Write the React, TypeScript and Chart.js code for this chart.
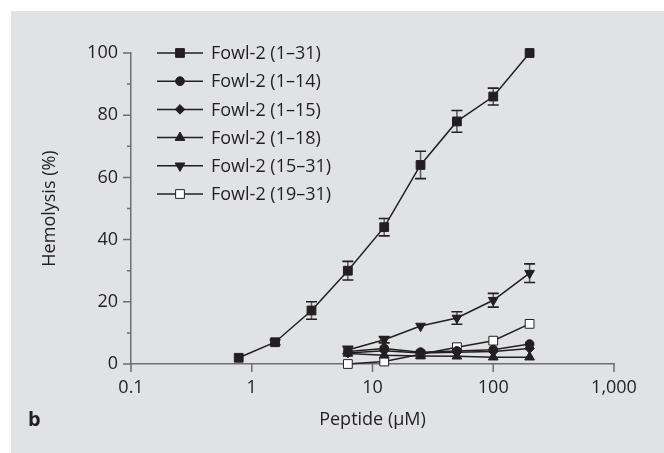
import React, { useEffect, useRef } from 'react';
import { Chart, registerables } from 'chart.js';
import { drawPoint } from 'chart.js/helpers';

Chart.register(...registerables);

// ---- data ----
const concAll = [0.78, 1.56, 3.125, 6.25, 12.5, 25, 50, 100, 200];
const concShort = [6.25, 12.5, 25, 50, 100, 200];
const seriesNames = [
  'Fowl-2 (1–31)',
  'Fowl-2 (1–14)',
  'Fowl-2 (1–15)',
  'Fowl-2 (1–18)',
  'Fowl-2 (15–31)',
  'Fowl-2 (19–31)',
];
const fowl1_31 = [2, 7, 17.2, 30, 44, 64, 78, 86, 100];
const fowl1_31Err = [0, 0.8, 2.8, 3, 2.8, 4.4, 3.5, 2.7, 0];
const fowl1_14 = [4, 5, 3.8, 4.2, 4.6, 6.4];
const fowl1_15 = [3.5, 4.3, 3.5, 3.8, 4, 5];
const fowl1_18 = [3.4, 2.8, 2.6, 2.5, 2.2, 2.2];
const fowl15_31 = [4.5, 7.8, 12.2, 14.8, 20.5, 29.2];
const fowl15_31Err = [1.2, 1, 0, 2, 2.2, 3];
const fowl19_31 = [0, 0.8, 3.1, 5.4, 7.5, 12.9];
const xTickValues = [0.1, 1, 10, 100, 1000];
const xTickLabels = ['0.1', '1', '10', '100', '1,000'];
const yMajorTicks = [0, 20, 40, 60, 80, 100];

const INK = '#231f20';
const AXIS = '#6d6e71';
const FONT_FAMILY = '"Open Sans", sans-serif';
const FONT_SIZE = 18;

type Marker = { pointStyle: string; rotation: number; radius: number; fill: string };
const markers: Marker[] = [
  { pointStyle: 'rect', rotation: 0, radius: 6.2, fill: INK },
  { pointStyle: 'circle', rotation: 0, radius: 4.4, fill: INK },
  { pointStyle: 'rectRot', rotation: 0, radius: 4.8, fill: INK },
  { pointStyle: 'triangle', rotation: 0, radius: 5.6, fill: INK },
  { pointStyle: 'triangle', rotation: 180, radius: 5.6, fill: INK },
  { pointStyle: 'rect', rotation: 0, radius: 6.2, fill: '#ffffff' },
];

const seriesData = [
  { x: concAll, y: fowl1_31, err: fowl1_31Err },
  { x: concShort, y: fowl1_14, err: null },
  { x: concShort, y: fowl1_15, err: null },
  { x: concShort, y: fowl1_18, err: null },
  { x: concShort, y: fowl15_31, err: fowl15_31Err },
  { x: concShort, y: fowl19_31, err: null },
];

const errorBarPlugin = {
  id: 'errorBars',
  beforeDatasetsDraw(chart: any) {
    const ctx = chart.ctx;
    const xs = chart.scales.x;
    const ys = chart.scales.y;
    ctx.save();
    seriesData.forEach((s) => {
      if (!s.err) return;
      s.x.forEach((xv, i) => {
        const e = s.err![i];
        if (!e) return;
        const px = xs.getPixelForValue(xv);
        const top = ys.getPixelForValue(s.y[i] + e);
        const bot = ys.getPixelForValue(s.y[i] - e);
        ctx.strokeStyle = '#58595b';
        ctx.lineWidth = 1.5;
        ctx.beginPath();
        ctx.moveTo(px, top);
        ctx.lineTo(px, bot);
        ctx.stroke();
        ctx.strokeStyle = INK;
        ctx.lineWidth = 1.6;
        ctx.beginPath();
        ctx.moveTo(px - 5.5, top);
        ctx.lineTo(px + 5.5, top);
        ctx.moveTo(px - 5.5, bot);
        ctx.lineTo(px + 5.5, bot);
        ctx.stroke();
      });
    });
    ctx.restore();
  },
};

const axisTicksPlugin = {
  id: 'axisTicks',
  beforeDatasetsDraw(chart: any) {
    const ctx = chart.ctx;
    const xs = chart.scales.x;
    const ys = chart.scales.y;
    const { left, bottom } = chart.chartArea;
    ctx.save();
    ctx.strokeStyle = AXIS;
    ctx.lineWidth = 1.5;
    ctx.beginPath();
    ys.ticks.forEach((t: any) => {
      const py = ys.getPixelForValue(t.value);
      const len = yMajorTicks.includes(t.value) ? 8 : 4;
      ctx.moveTo(left - len, py);
      ctx.lineTo(left, py);
    });
    xs.ticks.forEach((t: any) => {
      const px = xs.getPixelForValue(t.value);
      ctx.moveTo(px, bottom);
      ctx.lineTo(px, bottom + 8);
    });
    ctx.stroke();
    ctx.restore();
  },
};

const legendPlugin = {
  id: 'customLegend',
  afterDraw(chart: any) {
    const ctx = chart.ctx;
    ctx.save();
    seriesNames.forEach((name, i) => {
      const y = 53 + i * 28.2;
      ctx.strokeStyle = INK;
      ctx.lineWidth = 1.5;
      ctx.beginPath();
      ctx.moveTo(157, y);
      ctx.lineTo(203, y);
      ctx.stroke();
      const m = markers[i];
      ctx.fillStyle = m.fill;
      ctx.strokeStyle = INK;
      ctx.lineWidth = 1;
      drawPoint(ctx, { pointStyle: m.pointStyle as any, rotation: m.rotation, radius: m.radius, borderWidth: 1 }, 180, y);
      ctx.fillStyle = INK;
      ctx.font = `${FONT_SIZE}px ${FONT_FAMILY}`;
      ctx.textBaseline = 'middle';
      ctx.textAlign = 'left';
      ctx.fillText(name, 211, y + 1);
    });
    ctx.font = `bold 20px ${FONT_FAMILY}`;
    ctx.textBaseline = 'middle';
    ctx.fillText('b', 28, 420);
    ctx.restore();
  },
};

export default function App() {
  const ref = useRef<HTMLCanvasElement | null>(null);
  useEffect(() => {
    if (!ref.current) return;
    const font = { family: FONT_FAMILY, size: FONT_SIZE };
    const chart = new Chart(ref.current, {
      type: 'line',
      data: {
        datasets: seriesData.map((s, i) => ({
          label: seriesNames[i],
          data: s.x.map((xv, j) => ({ x: xv, y: s.y[j] })),
          borderColor: INK,
          borderWidth: 1.5,
          pointStyle: markers[i].pointStyle as any,
          rotation: markers[i].rotation,
          pointRadius: markers[i].radius,
          pointBackgroundColor: markers[i].fill,
          pointBorderColor: INK,
          pointBorderWidth: 1,
          tension: 0,
          fill: false,
          clip: false,
        })),
      },
      options: {
        animation: false,
        responsive: false,
        maintainAspectRatio: false,
        devicePixelRatio: 1,
        layout: { padding: { left: 0, top: 53, right: 50, bottom: 0 } },
        plugins: { legend: { display: false }, tooltip: { enabled: false } },
        scales: {
          x: {
            type: 'logarithmic',
            min: 0.1,
            max: 1000,
            position: 'bottom',
            afterBuildTicks: (s: any) => {
              s.ticks = xTickValues.map((v) => ({ value: v }));
            },
            afterFit: (s: any) => {
              s.height = 89;
            },
            ticks: {
              autoSkip: false,
              maxRotation: 0,
              font,
              color: INK,
              padding: 13,
              callback: (v: any) => {
                const k = xTickValues.indexOf(Number(v));
                return k >= 0 ? xTickLabels[k] : '';
              },
            },
            grid: { display: false, drawTicks: false },
            border: { display: true, color: AXIS, width: 1.5 },
            title: {
              display: true,
              text: 'Peptide (μM)',
              font,
              color: INK,
              padding: { top: 0, bottom: 22 },
            },
          },
          y: {
            type: 'linear',
            min: 0,
            max: 100,
            afterFit: (s: any) => {
              s.width = 131;
            },
            ticks: {
              stepSize: 10,
              font,
              color: INK,
              padding: 13,
              callback: (v: any) => (yMajorTicks.includes(Number(v)) ? String(v) : ''),
            },
            grid: { display: false, drawTicks: false },
            border: { display: true, color: AXIS, width: 1.5 },
            title: {
              display: true,
              text: 'Hemolysis (%)',
              font,
              color: INK,
              padding: { top: 39, bottom: 0 },
            },
          },
        },
      },
      plugins: [axisTicksPlugin, errorBarPlugin, legendPlugin],
    } as any);
    return () => chart.destroy();
  }, []);

  return (
    <div style={{ position: 'absolute', left: 0, top: 0, width: 664, height: 453, overflow: 'hidden', background: '#ffffff' }}>
      <div style={{ position: 'absolute', left: 11, top: 11, width: 653, height: 442, background: '#e1e2e4' }} />
      <canvas ref={ref} width={664} height={453} style={{ position: 'absolute', left: 0, top: 0, width: 664, height: 453 }} />
    </div>
  );
}
